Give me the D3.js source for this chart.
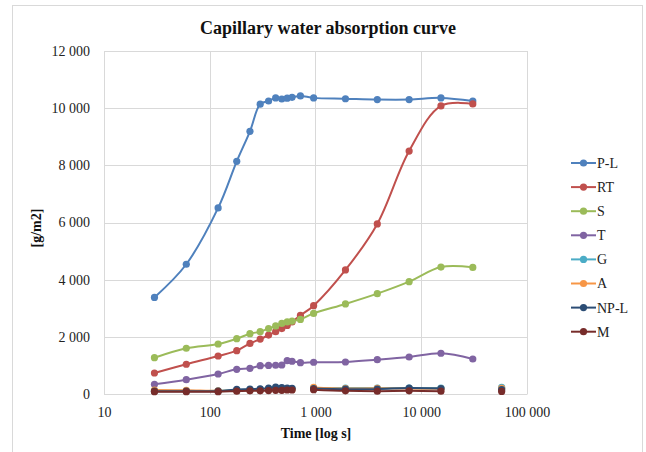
<!DOCTYPE html>
<html><head><meta charset="utf-8">
<script src="https://cdn.jsdelivr.net/npm/d3@7"></script>
<style>
html,body{margin:0;padding:0;background:#fff;}
svg{display:block;}
svg text{font-family:"Liberation Serif","Times New Roman",Times,"DejaVu Serif",serif;}
</style></head>
<body>
<svg id="chart" width="646" height="452"></svg>
<script>
const times = [30,60,120,180,240,300,360,420,480,540,600,720,960,1920,3840,7680,15360,30720,57600];
const seriesNames = ["P-L","RT","S","T","G","A","NP-L","M"];
const seriesColors = ["#4F81BD","#C0504D","#9BBB59","#8064A2","#4BACC6","#F79646","#2C4D75","#772C2A"];
const valuesPL  = [3380,4540,6510,8140,9190,10140,10250,10360,10320,10350,10380,10430,10360,10330,10300,10300,10360,10250,null];
const valuesRT  = [735,1040,1330,1516,1770,1920,2060,2180,2290,2400,2520,2750,3090,4340,5950,8500,10080,10150,null];
const valuesS   = [1270,1600,1750,1935,2110,2180,2290,2380,2470,2520,2550,2610,2820,3150,3510,3930,4440,4430,null];
const valuesT   = [340,500,700,864,900,990,1000,1005,1015,1165,1145,1095,1110,1120,1200,1295,1425,1225,null];
const valuesG   = [110,110,110,140,150,160,170,190,180,180,180,null,210,210,210,210,210,null,230];
const valuesA   = [140,130,110,120,130,140,150,160,160,160,160,null,230,190,200,190,180,null,200];
const valuesNPL = [100,100,100,160,170,180,210,240,220,210,200,null,190,170,170,210,190,null,150];
const valuesM   = [80,80,80,100,110,110,120,130,130,140,140,null,150,110,100,110,100,null,90];
const allValues = [valuesPL,valuesRT,valuesS,valuesT,valuesG,valuesA,valuesNPL,valuesM];
const xTicks = [10,100,1000,10000,100000];
const yTicks = [0,2000,4000,6000,8000,10000,12000];
const titleText = "Capillary water absorption curve";
const xTitle = "Time [log s]";
const yTitle = "[g/m2]";

const svg = d3.select("#chart");
const serif = '"Liberation Serif","Times New Roman",Times,"DejaVu Serif",serif';
const fmt = v => d3.format(",")(v).replace(/,/g, " ");

// outer frame
svg.append("rect").attr("x",12.5).attr("y",5.5).attr("width",630).attr("height",470)
  .attr("fill","#fff").attr("stroke","#d9d9d9");

const x = d3.scaleLog().domain([10,100000]).range([104,527]);
const y = d3.scaleLinear().domain([0,12000]).range([394,51]);

// gridlines
const grid = svg.append("g");
grid.selectAll(".hg").data(yTicks).join("line")
  .attr("x1",x.range()[0]).attr("x2",x.range()[1])
  .attr("y1",d=>Math.round(y(d))+0.5).attr("y2",d=>Math.round(y(d))+0.5)
  .attr("stroke","#d9d9d9").attr("stroke-width",1);
grid.selectAll(".vg").data(xTicks).join("line")
  .attr("y1",y.range()[0]).attr("y2",y.range()[1])
  .attr("x1",d=>Math.round(x(d))+0.5).attr("x2",d=>Math.round(x(d))+0.5)
  .attr("stroke","#d9d9d9").attr("stroke-width",1);

// axes via d3 axis
const xAxis = svg.append("g").attr("transform","translate(0,394)")
  .call(d3.axisBottom(x).tickValues(xTicks).tickFormat(fmt).tickSize(0).tickPadding(13));
const yAxis = svg.append("g").attr("transform","translate(104,0)")
  .call(d3.axisLeft(y).tickValues(yTicks).tickFormat(fmt).tickSize(0).tickPadding(14));
[xAxis,yAxis].forEach(a=>{
  a.attr("font-family",null);
  a.select(".domain").attr("stroke","#d9d9d9");
  a.selectAll("text").style("font-family",serif).style("font-size","14px").attr("fill","#222");
});

// title & axis titles
svg.append("text").attr("x",328).attr("y",34).attr("text-anchor","middle")
  .style("font-family",serif).attr("font-weight","bold").style("font-size","18px").attr("fill","#111").text(titleText);
svg.append("text").attr("x",316).attr("y",438).attr("text-anchor","middle")
  .style("font-family",serif).attr("font-weight","bold").style("font-size","14px").attr("fill","#111").text(xTitle);
svg.append("text").attr("transform","translate(41,228) rotate(-90)").attr("text-anchor","middle")
  .style("font-family",serif).attr("font-weight","bold").style("font-size","14px").attr("fill","#111").text(yTitle);

// series
const line = d3.line().defined(d=>d.v!=null).x(d=>x(d.t)).y(d=>y(d.v))
  .curve(d3.curveCatmullRom.alpha(0.5));
const plot = svg.append("g");
seriesNames.forEach((name,i)=>{
  const pts = times.map((t,j)=>({t, v: allValues[i][j]}));
  const g = plot.append("g");
  g.append("path").attr("d",line(pts)).attr("fill","none")
    .attr("stroke",seriesColors[i]).attr("stroke-width",2);
  g.selectAll("circle").data(pts.filter(d=>d.v!=null)).join("circle")
    .attr("cx",d=>x(d.t)).attr("cy",d=>y(d.v)).attr("r",3.6).attr("fill",seriesColors[i]);
});

// legend
const legend = svg.append("g");
seriesNames.forEach((name,i)=>{
  const ly = 163 + i*24.1;
  legend.append("line").attr("x1",571).attr("x2",596).attr("y1",ly).attr("y2",ly)
    .attr("stroke",seriesColors[i]).attr("stroke-width",2);
  legend.append("circle").attr("cx",583.5).attr("cy",ly).attr("r",3.6).attr("fill",seriesColors[i]);
  legend.append("text").attr("x",597).attr("y",ly).attr("dy","0.35em")
    .style("font-family",serif).style("font-size","14px").attr("fill","#222").text(name);
});
</script>
</body></html>
